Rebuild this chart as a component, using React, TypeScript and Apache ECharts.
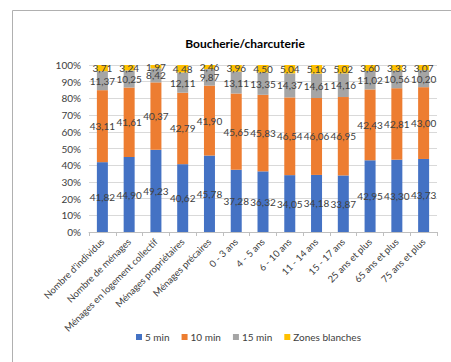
import React, { useEffect, useRef } from "react";
import * as echarts from "echarts";

const categories = [
  "Nombre d'individus",
  "Nombre de ménages",
  "Ménages en logement collectif",
  "Ménages propriétaires",
  "Ménages précaires",
  "0 - 3 ans",
  "4 - 5 ans",
  "6 - 10 ans",
  "11 - 14 ans",
  "15 - 17 ans",
  "25 ans et plus",
  "65 ans et plus",
  "75 ans et plus",
];

const min5 = [41.82, 44.9, 49.23, 40.62, 45.78, 37.28, 36.32, 34.05, 34.18, 33.87, 42.95, 43.3, 43.73];
const min10 = [43.11, 41.61, 40.37, 42.79, 41.9, 45.65, 45.83, 46.54, 46.06, 46.95, 42.43, 42.81, 43.0];
const min15 = [11.37, 10.25, 8.42, 12.11, 9.87, 13.11, 13.35, 14.37, 14.61, 14.16, 11.02, 10.56, 10.2];
const zonesBlanches = [3.71, 3.24, 1.97, 4.48, 2.46, 3.96, 4.5, 5.04, 5.16, 5.02, 3.6, 3.33, 3.07];

const seriesNames = ["5 min", "10 min", "15 min", "Zones blanches"];
const colors = ["#4472C4", "#ED7D31", "#A5A5A5", "#FFC000"];

const FONT = "Lato, 'Open Sans', sans-serif";

export default function App() {
  const ref = useRef<HTMLDivElement>(null);
  useEffect(() => {
    if (!ref.current) return;
    const chart = echarts.init(ref.current, null, { renderer: "svg" });
    const data = [min5, min10, min15, zonesBlanches];
    chart.setOption({
      animation: false,
      backgroundColor: "#ffffff",
      title: {
        text: "Boucherie/charcuterie",
        left: 240,
        top: 32,
        textAlign: "center",
        textStyle: { fontFamily: FONT, fontSize: 12, fontWeight: "bold", color: "#000000" },
      },
      graphic: [
        {
          type: "rect",
          shape: { x: 12.5, y: 10.5, width: 600, height: 500 },
          style: { fill: "none", stroke: "#b0b0b0", lineWidth: 1 },
          silent: true,
        },
      ],
      legend: {
        bottom: 15,
        left: 131,
        itemWidth: 6,
        itemHeight: 6,
        itemGap: 12,
        icon: "rect",
        data: seriesNames,
        textStyle: { fontFamily: FONT, fontSize: 10, color: "#404040", padding: [0, 0, 0, -2] },
      },
      grid: { left: 89, right: 14, top: 65, bottom: 130, containLabel: false },
      xAxis: {
        type: "category",
        data: categories,
        axisLine: { lineStyle: { color: "#bfbfbf" } },
        axisTick: { show: true, length: 4, lineStyle: { color: "#bfbfbf" } },
        axisLabel: {
          rotate: 45,
          interval: 0,
          margin: 8,
          fontFamily: FONT,
          fontSize: 9.5,
          color: "#404040",
        },
      },
      yAxis: {
        type: "value",
        min: 0,
        max: 100,
        interval: 10,
        axisLine: { show: false },
        axisTick: { show: false },
        splitLine: { lineStyle: { color: "#d9d9d9" } },
        axisLabel: {
          formatter: "{value}%",
          fontFamily: FONT,
          fontSize: 10,
          color: "#404040",
          margin: 8,
        },
      },
      series: seriesNames.map((name, i) => ({
        name,
        type: "bar",
        stack: "total",
        barWidth: 11,
        data: data[i],
        itemStyle: { color: colors[i] },
        label: {
          show: true,
          position: "inside",
          formatter: (p: any) => Number(p.value).toFixed(2).replace(".", ","),
          fontFamily: FONT,
          fontSize: 10,
          color: "#404040",
          textBorderWidth: 0,
        },
      })),
    });
    return () => chart.dispose();
  }, []);
  return (
    <div
      ref={ref}
      style={{ position: "fixed", left: 0, top: 0, width: 451, height: 362 }}
    />
  );
}
